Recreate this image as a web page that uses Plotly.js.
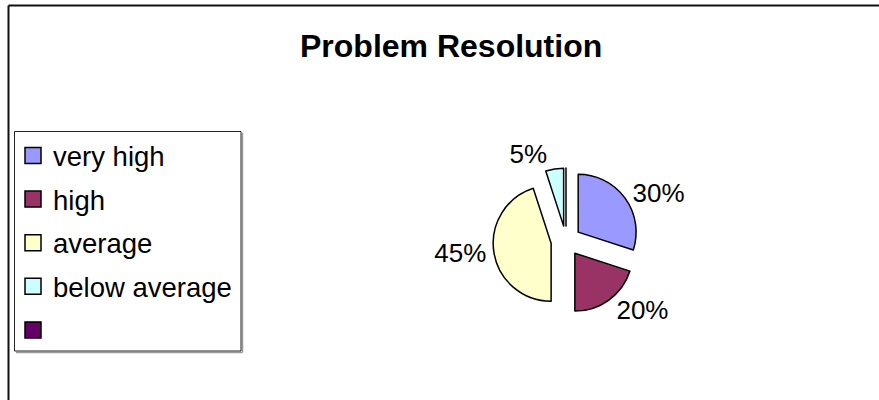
<!DOCTYPE html>
<html>
<head>
<meta charset="utf-8">
<script src="https://cdn.plot.ly/plotly-3.0.1.min.js"></script>
<style>
  html, body { margin: 0; padding: 0; background: #ffffff; }
  #chart { width: 879px; height: 400px; }
</style>
</head>
<body>
<div id="chart"></div>
<script>
// ---- data ----
const chartTitle = 'Problem Resolution';
const categories = ['very high', 'high', 'average', 'below average', ''];
const values = [30, 20, 45, 5, 0];
const colors = ['#9999FF', '#993366', '#FFFFCC', '#CCFFFF', '#660066'];

// ---- layout helpers (pixel -> paper, margins are 0) ----
const W = 879, H = 400;
const px = x => x / W;
const py = y => 1 - y / H;
const FONT = 'Liberation Sans, Arial, Helvetica, sans-serif';

const pieTrace = {
  type: 'pie',
  labels: categories.map((c, i) => c === '' ? ' ' : c),
  values: values,
  sort: false,
  direction: 'clockwise',
  rotation: 0,
  pull: values.map(() => 0.26),
  marker: { colors: colors, line: { color: '#000000', width: 1.5 } },
  textposition: 'outside',
  texttemplate: values.map(v => v > 0 ? '%{percent:.0%}' : ''),
  outsidetextfont: { family: FONT, size: 26, color: '#000000' },
  hoverinfo: 'label+percent',
  domain: { x: [px(493), px(639)], y: [py(314), py(168)] },
  showlegend: false
};

// custom legend (box, swatches, texts) built from the category/colour arrays
const shapes = [
  // outer chart border (left and top edges visible)
  { type: 'line', xref: 'paper', yref: 'paper', x0: px(8.5), x1: px(8.5), y0: py(5.5), y1: 0,
    line: { color: '#111111', width: 2 } },
  { type: 'line', xref: 'paper', yref: 'paper', x0: px(8.5), x1: 1, y0: py(5.5), y1: py(5.5),
    line: { color: '#111111', width: 2 } },
  // legend box shadow
  { type: 'line', xref: 'paper', yref: 'paper', x0: px(16), x1: px(242.5), y0: py(352.5), y1: py(352.5),
    line: { color: '#999999', width: 1.5 } },
  { type: 'line', xref: 'paper', yref: 'paper', x0: px(242.5), x1: px(242.5), y0: py(133), y1: py(352.5),
    line: { color: '#999999', width: 1.5 } },
  // legend box
  { type: 'rect', xref: 'paper', yref: 'paper', x0: px(14.5), x1: px(241), y0: py(131.5), y1: py(351),
    line: { color: '#222222', width: 1 }, fillcolor: '#ffffff' }
];
const annotations = [];
const legendTop = 155.5, legendStep = 43.6, sw = 16;
categories.forEach((c, i) => {
  const cy = legendTop + i * legendStep;
  shapes.push({
    type: 'rect', xref: 'paper', yref: 'paper',
    x0: px(25), x1: px(25 + sw), y0: py(cy - sw / 2), y1: py(cy + sw / 2),
    fillcolor: colors[i], line: { color: '#000000', width: 1.5 }
  });
  if (c !== '') {
    annotations.push({
      xref: 'paper', yref: 'paper', x: px(51), y: py(cy + 1), xanchor: 'left', yanchor: 'middle',
      text: c, showarrow: false, font: { family: FONT, size: 27.5, color: '#000000' }
    });
  }
});
annotations.push({
  xref: 'paper', yref: 'paper', x: px(451), y: py(46), xanchor: 'center', yanchor: 'middle',
  text: '<b>' + chartTitle + '</b>', showarrow: false,
  font: { family: FONT, size: 32, color: '#000000' }
});

const layout = {
  width: W, height: H,
  margin: { l: 0, r: 0, t: 0, b: 0 },
  paper_bgcolor: '#ffffff', plot_bgcolor: '#ffffff',
  showlegend: false,
  shapes: shapes,
  annotations: annotations
};

Plotly.newPlot('chart', [pieTrace], layout, { displayModeBar: false, staticPlot: true });
</script>
</body>
</html>
